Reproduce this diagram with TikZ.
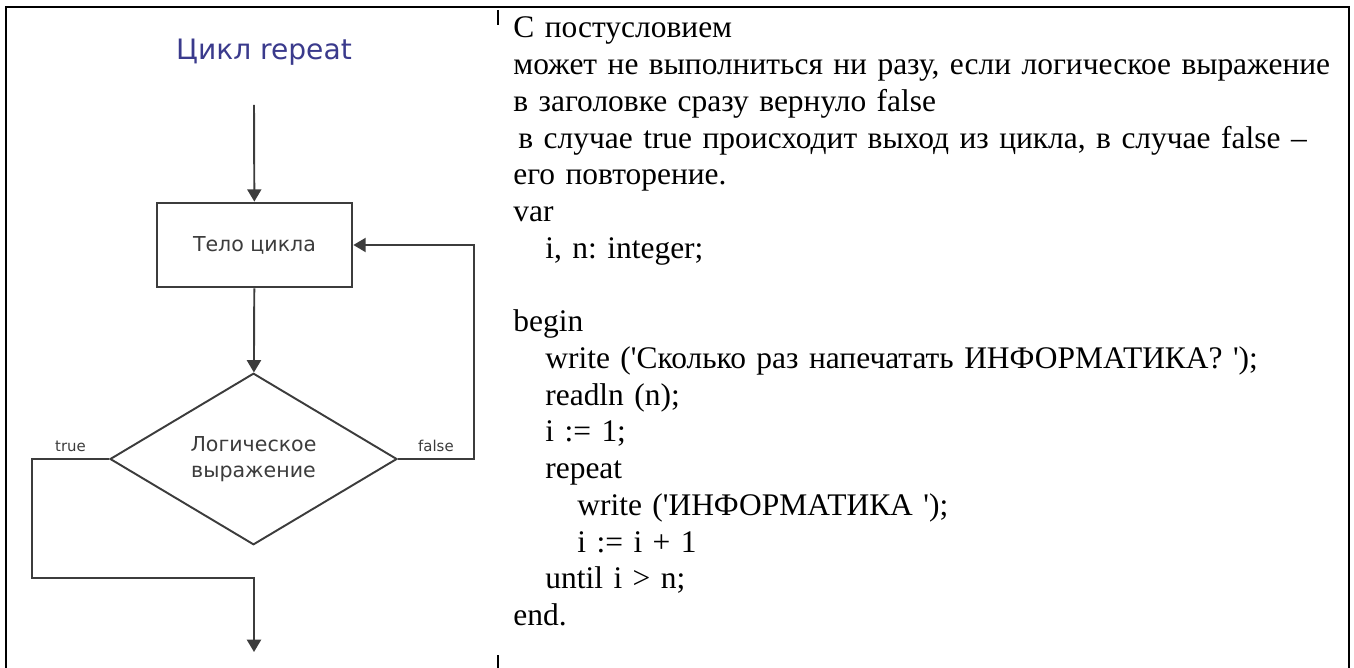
\documentclass[tikz,border=0pt]{standalone}
\usepackage{fontspec}
\setmainfont{Liberation Serif}
\newfontfamily\chartfont{DejaVu Sans}
\usetikzlibrary{arrows.meta, positioning, shapes.geometric}

\definecolor{titleblue}{HTML}{3A3A8C}
\definecolor{chartgray}{HTML}{3C3C3C}

\newcommand{\ind}{\hspace*{0.64cm}}
\newcommand{\q}{\textquotesingle}

\begin{document}
\frenchspacing
\begin{tikzpicture}[x=0.02cm, y=-0.02cm, >={Triangle[length=7pt, width=8pt]},
  frame/.style={line width=1.1pt},
  flow/.style={draw=chartgray, line width=1.1pt},
  process/.style={draw=chartgray, line width=1.6pt, fill=white, minimum width=3.9cm, minimum height=1.68cm, font=\chartfont\fontsize{11.7}{13}\selectfont, text=chartgray},
  decision/.style={diamond, draw=chartgray, line width=1.1pt, minimum width=5.74cm, minimum height=2.96cm, inner sep=0pt, align=center, font=\chartfont\fontsize{11.7}{15}\selectfont, text=chartgray},
  branch/.style={font=\chartfont\fontsize{8.5}{10}\selectfont, text=chartgray}]
  \useasboundingbox (0,0) rectangle (1354,668);

  % Рамка таблицы
  \draw[frame] (6,668) -- (6,7) -- (1349,7) -- (1349,668);
  \draw[line width=0.8pt] (498,10) -- (498,25);
  \draw[line width=0.8pt] (498,655) -- (498,668);

  % Блок-схема
  \node[font=\chartfont\fontsize{16}{18}\selectfont, text=titleblue] (title) at (264,52) {Цикл repeat};
  \node[process] (body) at (254.5,245) {Тело цикла};
  \node[decision] (cond) at (253.5,459) {Логическое\\выражение};
  \coordinate (entry) at (254,105);
  \coordinate (exit) at (254,652);

  \draw[flow, ->] (entry) -- (body);
  \draw[flow, ->] (body) -- (cond);

  % false: повторение
  \draw[flow, ->] (cond.east) -- ++(76,0) node[midway, above, branch]{false} |- (body.east);

  % true: выход
  \draw[flow, ->] (cond.west) -- ++(-77,0) node[midway, above, branch]{true} -- ++(0,119) -| (exit);

  % Текст
  \node[anchor=base west, inner sep=0pt, text width=17cm, align=left, font=\fontsize{17.9}{20.9}\selectfont] (desc) at (513,38) {%
    С постусловием\\
    может не выполниться ни разу, если логическое выражение\\
    в заголовке сразу вернуло false\\
    \hspace*{0.1cm}в случае true происходит выход из цикла, в случае false –\\
    его повторение.\\
    var\\
    \ind i, n: integer;\\
    \mbox{}\\
    begin\\
    \ind write (\q Сколько раз напечатать ИНФОРМАТИКА? \q);\\
    \ind readln (n);\\
    \ind i := 1;\\
    \ind repeat\\
    \ind\ind write (\q ИНФОРМАТИКА \q);\\
    \ind\ind i := i + 1\\
    \ind until i > n;\\
    end.};
\end{tikzpicture}
\end{document}
